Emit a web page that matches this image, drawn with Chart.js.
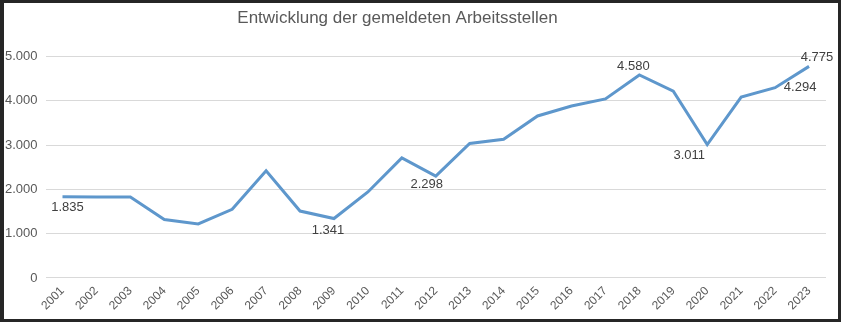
<!DOCTYPE html>
<html>
<head>
<meta charset="utf-8">
<script src="https://cdn.jsdelivr.net/npm/chart.js@4"></script>
<style>
  html, body { margin: 0; padding: 0; background: #262626; }
  #frame { position: absolute; left: 4px; top: 3px; width: 834px; height: 316px; background: #fff; overflow: hidden; }
  #inner { position: absolute; left: -7px; top: 0; width: 841px; height: 316px; }
</style>
</head>
<body>
<div id="frame"><div id="inner"><canvas id="lineChart"></canvas></div></div>
<script>
const years = ['2001', '2002', '2003', '2004', '2005', '2006', '2007', '2008', '2009', '2010', '2011', '2012',
    '2013', '2014', '2015', '2016', '2017', '2018', '2019', '2020', '2021', '2022', '2023'];
const stellen = [1835, 1825, 1825, 1320, 1220, 1550, 2420, 1510, 1341, 1940, 2710, 2298,
    3035, 3130, 3655, 3880, 4040, 4580, 4215, 3011, 4080, 4294, 4775];
const yTicks = [0, 1000, 2000, 3000, 4000, 5000];
const labelled = [0, 8, 11, 17, 19, 21, 22];

const fmt = v => v.toLocaleString('de-DE');

// offsets of the value labels relative to their point (px)
const labelPos = {
    0: [5, 11], 8: [-6, 12], 11: [-9, 8], 17: [-6, -9],
    19: [-18, 11], 21: [25, 0], 22: [8, -9]
};

const valueLabels = {
    id: 'valueLabels',
    afterLayout(chart) {
        // title sits a bit left of the centre in the original
        chart.titleBlock.left -= 14;
        chart.titleBlock.right -= 14;
    },
    afterDatasetsDraw(chart) {
        const ctx = chart.ctx;
        const meta = chart.getDatasetMeta(0);
        ctx.save();
        ctx.font = '13px "Liberation Sans", Arial, sans-serif';
        ctx.fillStyle = '#404040';
        ctx.textAlign = 'center';
        ctx.textBaseline = 'middle';
        labelled.forEach(i => {
            const p = meta.data[i];
            const off = labelPos[i];
            ctx.fillText(fmt(stellen[i]), p.x + off[0], p.y + off[1]);
        });
        ctx.restore();
    }
};

const lineConfig = {
    type: 'line',
    data: {
        labels: years,
        datasets: [{
            label: 'Arbeitsstellen',
            data: stellen,
            borderColor: '#5e97cc',
            borderWidth: 3,
            pointRadius: 0,
            tension: 0,
            fill: false
        }]
    },
    options: {
        responsive: true,
        maintainAspectRatio: false,
        animation: false,
        layout: { padding: { left: 0, right: 12, top: 4, bottom: 0 } },
        plugins: {
            legend: { display: false },
            tooltip: { enabled: false },
            title: {
                display: true,
                text: 'Entwicklung der gemeldeten Arbeitsstellen',
                color: '#595959',
                font: { family: '"Liberation Sans", Arial, sans-serif', size: 17, weight: 'normal' },
                padding: { top: 1, bottom: 28 }
            }
        },
        scales: {
            x: {
                offset: true,
                grid: { display: false, drawTicks: false },
                border: { display: false },
                ticks: {
                    color: '#595959',
                    font: { family: '"Liberation Sans", Arial, sans-serif', size: 12 },
                    minRotation: 45,
                    maxRotation: 45,
                    autoSkip: false,
                    padding: 6
                }
            },
            y: {
                min: 0,
                max: 5000,
                afterBuildTicks: axis => { axis.ticks = yTicks.map(v => ({ value: v })); },
                grid: { color: '#d9d9d9', lineWidth: 1, drawTicks: false },
                border: { display: false },
                ticks: {
                    color: '#595959',
                    font: { family: '"Liberation Sans", Arial, sans-serif', size: 13 },
                    padding: 8,
                    callback: v => fmt(v)
                }
            }
        }
    },
    plugins: [valueLabels]
};

new Chart(document.getElementById('lineChart'), lineConfig);
</script>
</body>
</html>
